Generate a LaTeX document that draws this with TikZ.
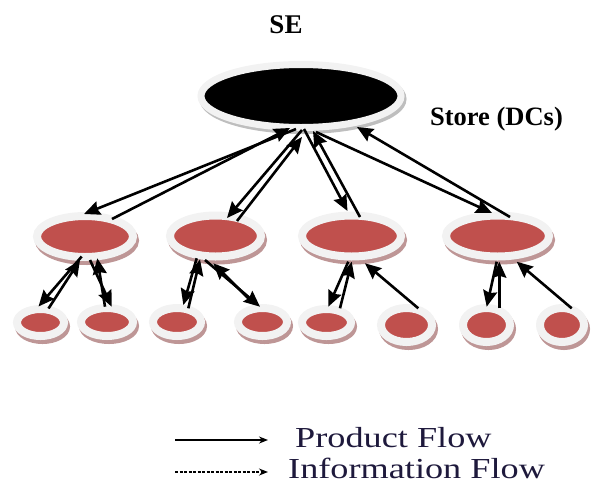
\documentclass[tikz,border=0pt]{standalone}
\usepackage{fontspec}
\setmainfont{Liberation Serif}
\usetikzlibrary{shapes.geometric,arrows.meta}
\definecolor{dcRed}{RGB}{192,80,77}
\definecolor{rimGray}{RGB}{242,242,242}
\definecolor{shadowRed}{RGB}{190,150,150}
\definecolor{shadowGray}{RGB}{190,190,190}
\definecolor{legendInk}{RGB}{30,25,60}

\begin{document}
\begin{tikzpicture}
[x=1pt,y=-1pt,%
  flowArrow/.style={-{Stealth[length=16pt,width=14pt,inset=2pt]},line width=2.6pt},%
  keyArrow/.style={-{Stealth[length=9pt,width=7pt]},line width=1.8pt},%
  rimEllipse/.style={shape=ellipse,inner sep=0pt,draw=rimGray,line width=8pt},%
  storeDecorate/.style={rimEllipse,line width=7pt,fill=black,
    preaction={draw=shadowGray,fill=shadowGray,transform canvas={xshift=2pt,yshift=-3pt}}},%
  dcDecorate/.style={rimEllipse,fill=dcRed,
    preaction={draw=shadowRed,fill=shadowRed,transform canvas={xshift=2pt,yshift=-4pt}}},%
  titleText/.style={font=\fontsize{27}{30}\selectfont\bfseries,anchor=base,inner sep=0pt},%
  keyText/.style={font=\fontsize{29}{31}\selectfont,anchor=base west,inner sep=0pt,text=legendInk}]
\useasboundingbox (0,0) rectangle (591,483);
%% the store on top
\node (se) at (301,96) [storeDecorate,minimum width=200pt,minimum height=63pt] {};
%% DCs and the stores below them
\foreach \nodename/\x/\y/\a/\b in {m1/85/236.5/44/16.5, m2/215.5/236/41.5/16.5,
  m3/351.5/236/45.5/16.5, m4/497.5/236/47.5/16.5,
  s1/40.5/322.5/19.5/9.5, s2/107/322/22/10, s3/177/322/20/10, s4/262.5/322/20.5/10,
  s5/326.5/322.5/20.5/9.5, s6/406.5/325/21.5/13, s7/486.5/325/19.5/13, s8/562/325/18/13}
{
  \node (\nodename) at (\x,\y) [dcDecorate,minimum width={(2*\a+8)*1pt},minimum height={(2*\b+8)*1pt}] {};
}
%% labels
\node (seLabel) at (286,33) [titleText] {SE};
\node (storeLabel) at (496.5,125) [titleText,font=\fontsize{26.5}{29}\selectfont\bfseries] {Store (DCs)};
%% flows
\path
\foreach \s/\sx/\sy/\t/\tx/\ty in {
  se/-5/33/m1/-1/-22.5, m1/27/-17.5/se/-11/32,
  se/1/34/m2/11.5/-18, m2/21.5/-15/se/1/41,
  se/3/33/m3/-4/-25, m3/8.5/-19/se/12/35,
  se/15/36/m4/-5.5/-23, m4/12.5/-19/se/56/31,
  m1/-3.3/20/s1/-2/-16, s1/8/-14/m1/-5/23.5,
  m1/5/23.5/s2/4.7/-15.3, s2/-2/-15.3/m1/12.3/21.8,
  m2/-18.8/22.3/s3/6.3/-17, s3/11.3/-13.7/m2/-15.5/23.3,
  m2/-10.5/24/s4/-2.5/-15.3, s4/-9.2/-18.7/m2/-2.2/27.3,
  m3/-3.2/25.7/s5/1.8/-15.8, s5/13.5/-14.2/m3/0.2/25.7,
  s6/11.8/-16.7/m3/13.5/27.3,
  m4/-0.8/25.7/s7/0.2/-18.3, s7/12.8/-16.7/m4/1.8/25.7,
  s8/9.7/-16.7/m4/19.2/25.7}
{
  ([shift={(\sx,\sy)}]\s.center) edge[flowArrow] ([shift={(\tx,\ty)}]\t.center)
};
%% legend
\coordinate (prodStart) at (175,440);
\coordinate (prodEnd) at (268,440);
\coordinate (infoStart) at (175,472);
\coordinate (infoEnd) at (268,472);
\draw[keyArrow] (prodStart) -- (prodEnd);
\draw[keyArrow,dash pattern=on 3pt off 1.5pt] (infoStart) -- (infoEnd);
\node (prodText) at (295,447) [keyText] {\scalebox{1.25}[1]{Product Flow}};
\node (infoText) at (288,478) [keyText] {\scalebox{1.25}[1]{Information Flow}};
\end{tikzpicture}
\end{document}
